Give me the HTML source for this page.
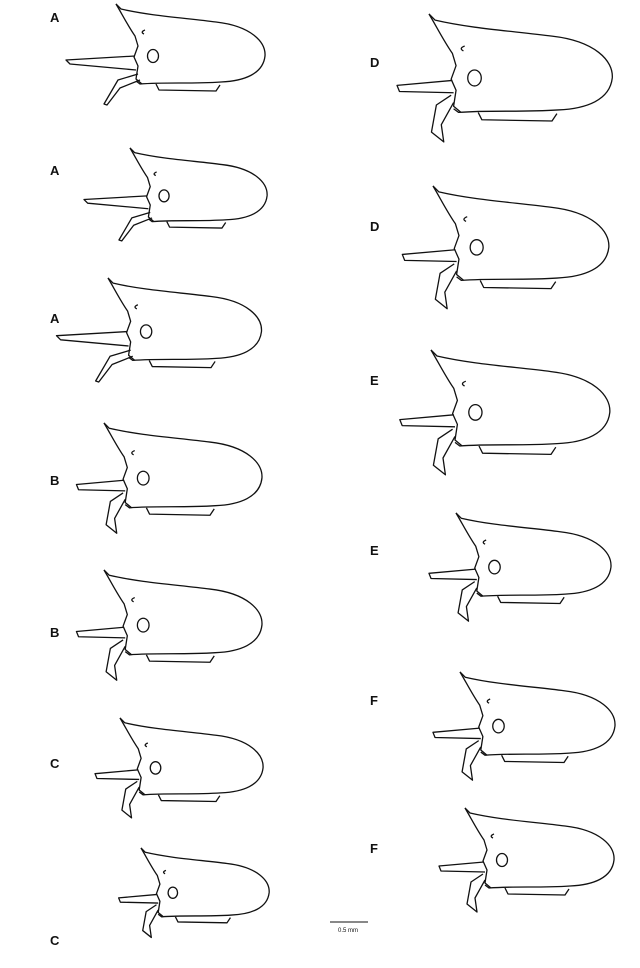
<!DOCTYPE html>
<html><head><meta charset="utf-8"><style>
html,body{margin:0;padding:0;background:#fff;}
svg{display:block}
text{font-family:"Liberation Sans",sans-serif;font-weight:bold;font-size:13px;fill:#111}
path,ellipse{vector-effect:non-scaling-stroke}
</style></head><body>
<svg width="640" height="968" viewBox="0 0 640 968" xmlns="http://www.w3.org/2000/svg">
<defs>
<g id="body" fill="none" stroke="#111" stroke-width="1.3" stroke-linejoin="round">
<path d="M0,0 L5,5 C35,12 70,14 100,18 C135,22 150,38 149,52 C147,70 128,77 105,78 C75,80 50,78 24,80 L20,77"/>
<path d="M0,0 C6,10 12,22 19,32 L22,42 L18,53 L22,62 L20,75 L26,80"/>
<ellipse cx="37" cy="52" rx="5.5" ry="6.5"/>
<path d="M40,80 L43,86 L100,87 L104,81"/>
<path d="M29,26 Q24,28 28,30"/>
</g>
<g id="hornA" fill="none" stroke="#111" stroke-width="1.3" stroke-linejoin="round">
<path d="M19,52 L-50,56 L-46,60 L20,66"/>
<path d="M22,70 L2,76 L-12,100 L-9,101 L4,84 L24,76"/>
</g>
<g id="hornB" fill="none" stroke="#111" stroke-width="1.3" stroke-linejoin="round">
<path d="M19,54 L-26,58 L-24,63 L20,64"/>
<path d="M18,66 L6,74 L2,96 L12,104 L10,90 L20,72"/>
</g>
</defs>
<text x="50" y="22">A</text>
<text x="50" y="175">A</text>
<text x="50" y="323">A</text>
<text x="50" y="485">B</text>
<text x="50" y="637">B</text>
<text x="50" y="768">C</text>
<text x="50" y="945">C</text>
<text x="370" y="67">D</text>
<text x="370" y="231">D</text>
<text x="370" y="385">E</text>
<text x="370" y="555">E</text>
<text x="370" y="705">F</text>
<text x="370" y="853">F</text>

<g transform="translate(116,4)"><use href="#body"/><use href="#hornA"/></g>
<g transform="translate(130,148) scale(0.92)"><use href="#body"/><use href="#hornA"/></g>
<g transform="translate(108,278) scale(1.03)"><use href="#body"/><use href="#hornA"/></g>
<g transform="translate(104,423) scale(1.06)"><use href="#body"/><use href="#hornB"/></g>
<g transform="translate(104,570) scale(1.06)"><use href="#body"/><use href="#hornB"/></g>
<g transform="translate(120,718) scale(0.96)"><use href="#body"/><use href="#hornB"/></g>
<g transform="translate(141,848) scale(0.86)"><use href="#body"/><use href="#hornB"/></g>

<g transform="translate(429,14) scale(1.23)"><use href="#body"/><use href="#hornB"/></g>
<g transform="translate(433,186) scale(1.18)"><use href="#body"/><use href="#hornB"/></g>
<g transform="translate(431,350) scale(1.2)"><use href="#body"/><use href="#hornB"/></g>
<g transform="translate(456,513) scale(1.04)"><use href="#body"/><use href="#hornB"/></g>
<g transform="translate(460,672) scale(1.04)"><use href="#body"/><use href="#hornB"/></g>
<g transform="translate(465,808) scale(1.0)"><use href="#body"/><use href="#hornB"/></g>

<line x1="330" y1="922" x2="368" y2="922" stroke="#111" stroke-width="1"/>
<text x="338" y="932" style="font-size:6px;font-weight:normal">0.5 mm</text>
</svg>
</body></html>
